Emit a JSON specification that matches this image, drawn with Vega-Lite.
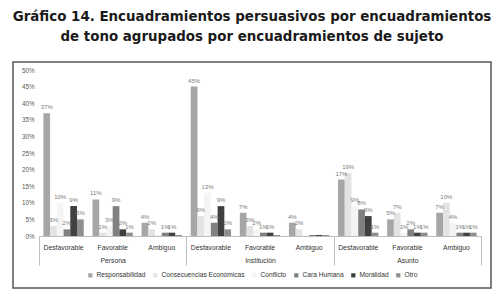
{
  "$schema": "https://vega.github.io/schema/vega-lite/v6.json",
  "width": 478,
  "height": 226,
  "padding": {"left": 12, "top": 9, "right": 10, "bottom": 15},
  "background": "white",
  "title": {
    "text": ["Gráfico 14. Encuadramientos persuasivos por encuadramientos", "de tono agrupados por encuadramientos de sujeto"],
    "font": "DejaVu Sans",
    "fontSize": 13.4,
    "fontWeight": "bold",
    "color": "#1a1a1a",
    "anchor": "middle",
    "lineHeight": 20,
    "offset": 19
  },
  "data": {
    "values": [
      {"categoria": "Persona|Desfavorable", "sujeto": "Persona", "tono": "Desfavorable", "serie": "Responsabilidad", "valor": 0.37},
      {"categoria": "Persona|Desfavorable", "sujeto": "Persona", "tono": "Desfavorable", "serie": "Consecuencias Económicas", "valor": 0.03},
      {"categoria": "Persona|Desfavorable", "sujeto": "Persona", "tono": "Desfavorable", "serie": "Conflicto", "valor": 0.10},
      {"categoria": "Persona|Desfavorable", "sujeto": "Persona", "tono": "Desfavorable", "serie": "Cara Humana", "valor": 0.02},
      {"categoria": "Persona|Desfavorable", "sujeto": "Persona", "tono": "Desfavorable", "serie": "Moralidad", "valor": 0.09},
      {"categoria": "Persona|Desfavorable", "sujeto": "Persona", "tono": "Desfavorable", "serie": "Otro", "valor": 0.05},
      {"categoria": "Persona|Favorable", "sujeto": "Persona", "tono": "Favorable", "serie": "Responsabilidad", "valor": 0.11},
      {"categoria": "Persona|Favorable", "sujeto": "Persona", "tono": "Favorable", "serie": "Consecuencias Económicas", "valor": 0.01},
      {"categoria": "Persona|Favorable", "sujeto": "Persona", "tono": "Favorable", "serie": "Conflicto", "valor": 0.03},
      {"categoria": "Persona|Favorable", "sujeto": "Persona", "tono": "Favorable", "serie": "Cara Humana", "valor": 0.09},
      {"categoria": "Persona|Favorable", "sujeto": "Persona", "tono": "Favorable", "serie": "Moralidad", "valor": 0.02},
      {"categoria": "Persona|Favorable", "sujeto": "Persona", "tono": "Favorable", "serie": "Otro", "valor": 0.01},
      {"categoria": "Persona|Ambiguo", "sujeto": "Persona", "tono": "Ambiguo", "serie": "Responsabilidad", "valor": 0.04},
      {"categoria": "Persona|Ambiguo", "sujeto": "Persona", "tono": "Ambiguo", "serie": "Consecuencias Económicas", "valor": 0.02},
      {"categoria": "Persona|Ambiguo", "sujeto": "Persona", "tono": "Ambiguo", "serie": "Conflicto", "valor": 0.003},
      {"categoria": "Persona|Ambiguo", "sujeto": "Persona", "tono": "Ambiguo", "serie": "Cara Humana", "valor": 0.01},
      {"categoria": "Persona|Ambiguo", "sujeto": "Persona", "tono": "Ambiguo", "serie": "Moralidad", "valor": 0.01},
      {"categoria": "Persona|Ambiguo", "sujeto": "Persona", "tono": "Ambiguo", "serie": "Otro", "valor": 0.003},
      {"categoria": "Institución|Desfavorable", "sujeto": "Institución", "tono": "Desfavorable", "serie": "Responsabilidad", "valor": 0.45},
      {"categoria": "Institución|Desfavorable", "sujeto": "Institución", "tono": "Desfavorable", "serie": "Consecuencias Económicas", "valor": 0.06},
      {"categoria": "Institución|Desfavorable", "sujeto": "Institución", "tono": "Desfavorable", "serie": "Conflicto", "valor": 0.13},
      {"categoria": "Institución|Desfavorable", "sujeto": "Institución", "tono": "Desfavorable", "serie": "Cara Humana", "valor": 0.04},
      {"categoria": "Institución|Desfavorable", "sujeto": "Institución", "tono": "Desfavorable", "serie": "Moralidad", "valor": 0.09},
      {"categoria": "Institución|Desfavorable", "sujeto": "Institución", "tono": "Desfavorable", "serie": "Otro", "valor": 0.02},
      {"categoria": "Institución|Favorable", "sujeto": "Institución", "tono": "Favorable", "serie": "Responsabilidad", "valor": 0.07},
      {"categoria": "Institución|Favorable", "sujeto": "Institución", "tono": "Favorable", "serie": "Consecuencias Económicas", "valor": 0.03},
      {"categoria": "Institución|Favorable", "sujeto": "Institución", "tono": "Favorable", "serie": "Conflicto", "valor": 0.02},
      {"categoria": "Institución|Favorable", "sujeto": "Institución", "tono": "Favorable", "serie": "Cara Humana", "valor": 0.01},
      {"categoria": "Institución|Favorable", "sujeto": "Institución", "tono": "Favorable", "serie": "Moralidad", "valor": 0.01},
      {"categoria": "Institución|Favorable", "sujeto": "Institución", "tono": "Favorable", "serie": "Otro", "valor": 0.003},
      {"categoria": "Institución|Ambiguo", "sujeto": "Institución", "tono": "Ambiguo", "serie": "Responsabilidad", "valor": 0.04},
      {"categoria": "Institución|Ambiguo", "sujeto": "Institución", "tono": "Ambiguo", "serie": "Consecuencias Económicas", "valor": 0.02},
      {"categoria": "Institución|Ambiguo", "sujeto": "Institución", "tono": "Ambiguo", "serie": "Conflicto", "valor": 0.003},
      {"categoria": "Institución|Ambiguo", "sujeto": "Institución", "tono": "Ambiguo", "serie": "Cara Humana", "valor": 0.003},
      {"categoria": "Institución|Ambiguo", "sujeto": "Institución", "tono": "Ambiguo", "serie": "Moralidad", "valor": 0.003},
      {"categoria": "Institución|Ambiguo", "sujeto": "Institución", "tono": "Ambiguo", "serie": "Otro", "valor": 0.003},
      {"categoria": "Asunto|Desfavorable", "sujeto": "Asunto", "tono": "Desfavorable", "serie": "Responsabilidad", "valor": 0.17},
      {"categoria": "Asunto|Desfavorable", "sujeto": "Asunto", "tono": "Desfavorable", "serie": "Consecuencias Económicas", "valor": 0.19},
      {"categoria": "Asunto|Desfavorable", "sujeto": "Asunto", "tono": "Desfavorable", "serie": "Conflicto", "valor": 0.09},
      {"categoria": "Asunto|Desfavorable", "sujeto": "Asunto", "tono": "Desfavorable", "serie": "Cara Humana", "valor": 0.08},
      {"categoria": "Asunto|Desfavorable", "sujeto": "Asunto", "tono": "Desfavorable", "serie": "Moralidad", "valor": 0.06},
      {"categoria": "Asunto|Desfavorable", "sujeto": "Asunto", "tono": "Desfavorable", "serie": "Otro", "valor": 0.01},
      {"categoria": "Asunto|Favorable", "sujeto": "Asunto", "tono": "Favorable", "serie": "Responsabilidad", "valor": 0.05},
      {"categoria": "Asunto|Favorable", "sujeto": "Asunto", "tono": "Favorable", "serie": "Consecuencias Económicas", "valor": 0.07},
      {"categoria": "Asunto|Favorable", "sujeto": "Asunto", "tono": "Favorable", "serie": "Conflicto", "valor": 0.01},
      {"categoria": "Asunto|Favorable", "sujeto": "Asunto", "tono": "Favorable", "serie": "Cara Humana", "valor": 0.02},
      {"categoria": "Asunto|Favorable", "sujeto": "Asunto", "tono": "Favorable", "serie": "Moralidad", "valor": 0.01},
      {"categoria": "Asunto|Favorable", "sujeto": "Asunto", "tono": "Favorable", "serie": "Otro", "valor": 0.01},
      {"categoria": "Asunto|Ambiguo", "sujeto": "Asunto", "tono": "Ambiguo", "serie": "Responsabilidad", "valor": 0.07},
      {"categoria": "Asunto|Ambiguo", "sujeto": "Asunto", "tono": "Ambiguo", "serie": "Consecuencias Económicas", "valor": 0.10},
      {"categoria": "Asunto|Ambiguo", "sujeto": "Asunto", "tono": "Ambiguo", "serie": "Conflicto", "valor": 0.04},
      {"categoria": "Asunto|Ambiguo", "sujeto": "Asunto", "tono": "Ambiguo", "serie": "Cara Humana", "valor": 0.01},
      {"categoria": "Asunto|Ambiguo", "sujeto": "Asunto", "tono": "Ambiguo", "serie": "Moralidad", "valor": 0.01},
      {"categoria": "Asunto|Ambiguo", "sujeto": "Asunto", "tono": "Ambiguo", "serie": "Otro", "valor": 0.01}
    ]
  },
  "layer": [
    {
      "encoding": {
        "x": {
          "field": "categoria",
          "type": "nominal",
          "scale": {
            "domain": ["Persona|Desfavorable", "Persona|Favorable", "Persona|Ambiguo", "Institución|Desfavorable", "Institución|Favorable", "Institución|Ambiguo", "Asunto|Desfavorable", "Asunto|Favorable", "Asunto|Ambiguo"],
            "range": [26, 468],
            "paddingInner": 0,
            "paddingOuter": 0
          },
          "axis": {
            "orient": "bottom",
            "offset": -52,
            "title": null,
            "labelAngle": 0,
            "ticks": false,
            "tickSize": 0,
            "domain": true,
            "domainColor": "#bfbfbf",
            "labelExpr": "split(datum.label, '|')[1]",
            "labelFont": "Liberation Sans",
            "labelFontSize": 6.8,
            "labelColor": "#333333",
            "labelBaseline": "middle",
            "labelPadding": 11
          }
        },
        "xOffset": {
          "field": "serie",
          "type": "nominal",
          "scale": {
            "domain": ["Responsabilidad", "Consecuencias Económicas", "Conflicto", "Cara Humana", "Moralidad", "Otro"],
            "paddingInner": 0,
            "paddingOuter": 0.65
          }
        },
        "y": {
          "field": "valor",
          "type": "quantitative",
          "scale": {"domain": [0, 0.5], "range": [174, 8], "nice": false},
          "axis": {
            "orient": "left",
            "offset": -26,
            "title": null,
            "grid": false,
            "domain": false,
            "ticks": false,
            "values": [0, 0.05, 0.1, 0.15, 0.2, 0.25, 0.3, 0.35, 0.4, 0.45, 0.5],
            "format": ".0%",
            "labelFont": "Liberation Sans",
            "labelFontSize": 6.3,
            "labelColor": "#595959",
            "labelPadding": 5
          }
        }
      },
      "layer": [
        {
          "mark": {"type": "bar"},
          "encoding": {
            "color": {
              "field": "serie",
              "type": "nominal",
              "scale": {
                "domain": ["Responsabilidad", "Consecuencias Económicas", "Conflicto", "Cara Humana", "Moralidad", "Otro"],
                "range": ["#a6a6a6", "#e3e3e3", "#f4f4f4", "#808080", "#404040", "#8f8f8f"]
              },
              "legend": {
                "orient": "none",
                "legendX": 74,
                "legendY": 210,
                "direction": "horizontal",
                "title": null,
                "symbolType": "square",
                "symbolSize": 18,
                "symbolStrokeWidth": 0,
                "labelFont": "Liberation Sans",
                "labelFontSize": 6.6,
                "labelColor": "#333333",
                "labelOffset": 3,
                "columnPadding": 6
              }
            }
          }
        },
        {
          "transform": [{"filter": "datum.valor >= 0.005"}],
          "mark": {"type": "text", "baseline": "bottom", "dy": -3, "font": "Liberation Sans", "fontSize": 6, "color": "#7a7a7a"},
          "encoding": {
            "text": {"field": "valor", "type": "quantitative", "format": ".0%"}
          }
        }
      ]
    },
    {
      "mark": {"type": "rule", "opacity": 0},
      "encoding": {
        "x": {
          "field": "sujeto",
          "type": "nominal",
          "scale": {
            "domain": ["Persona", "Institución", "Asunto"],
            "range": [26, 468],
            "paddingInner": 0,
            "paddingOuter": 0
          },
          "axis": {
            "orient": "bottom",
            "offset": -52,
            "title": null,
            "labelAngle": 0,
            "domain": false,
            "ticks": true,
            "tickBand": "extent",
            "tickSize": 29,
            "tickColor": "#bfbfbf",
            "labelFont": "Liberation Sans",
            "labelFontSize": 6.8,
            "labelColor": "#333333",
            "labelBaseline": "middle",
            "labelPadding": -5
          }
        }
      }
    }
  ],
  "resolve": {"scale": {"x": "independent"}, "axis": {"x": "independent"}},
  "config": {
    "view": {"stroke": "#555555", "strokeWidth": 1.5},
    "axis": {"labelOverlap": false}
  }
}
